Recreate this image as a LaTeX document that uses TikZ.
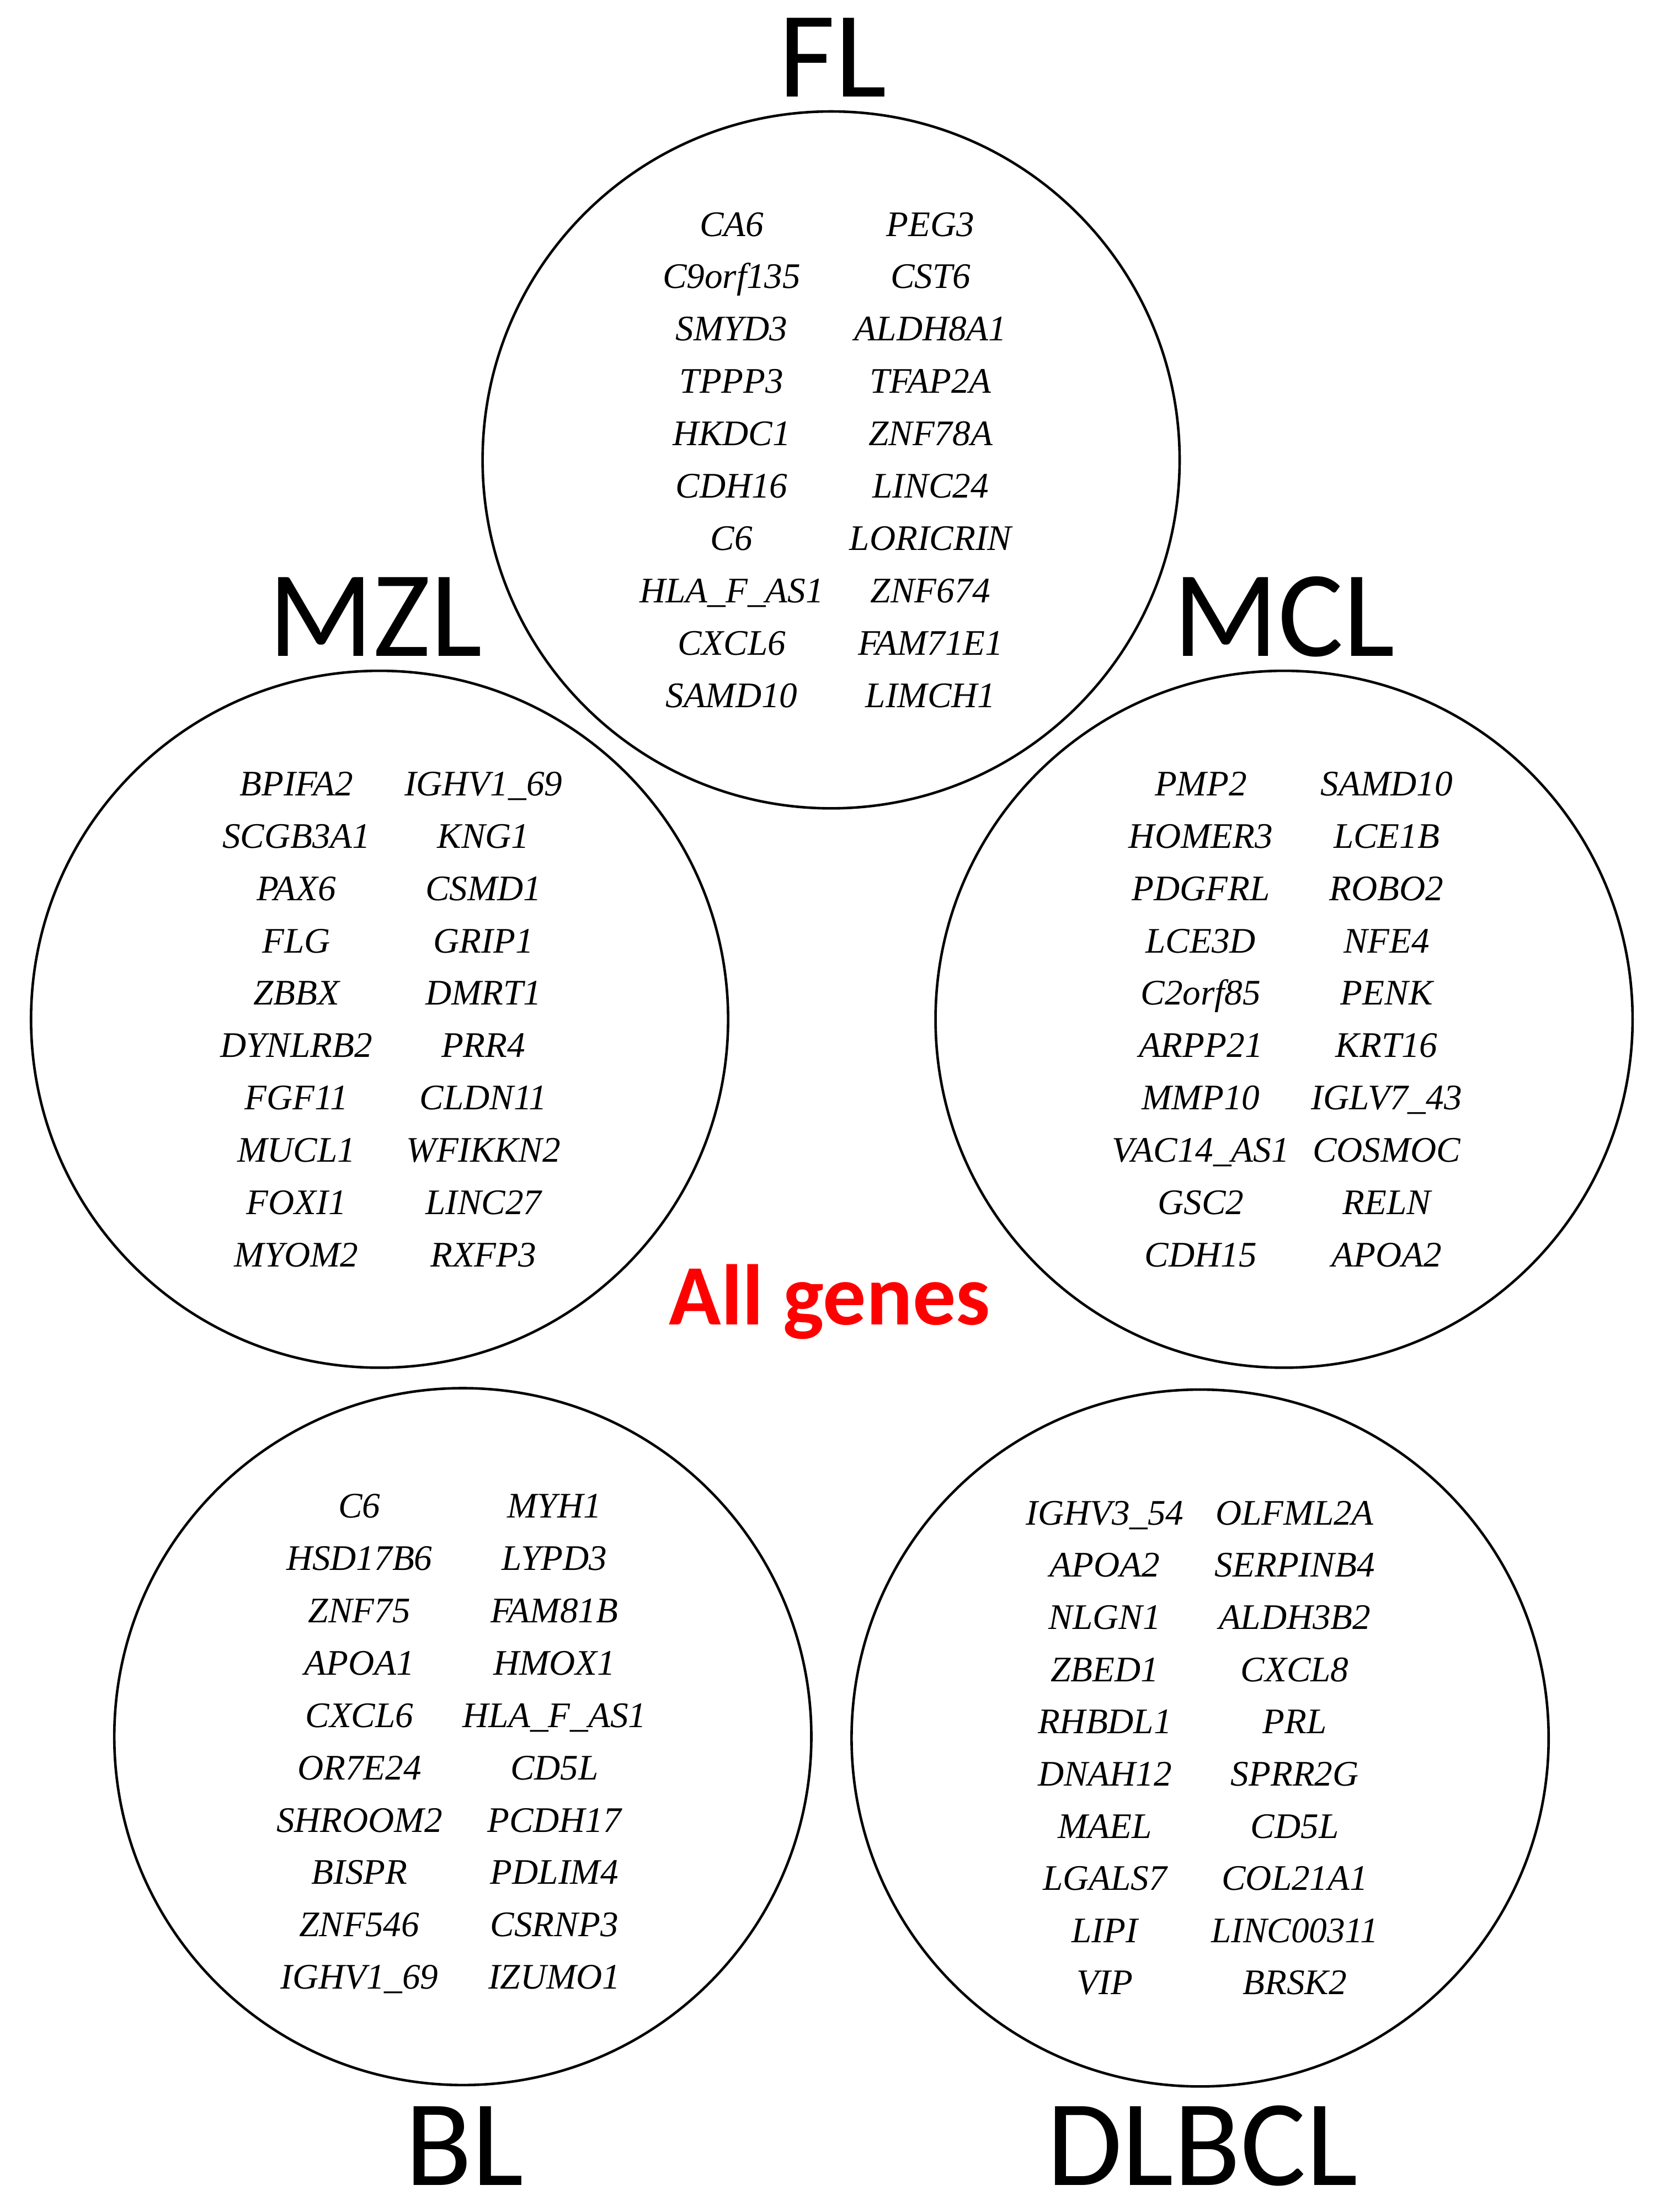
\documentclass[tikz,border=0pt]{standalone}
\usepackage{fontspec}
\setmainfont{Liberation Serif}
\newfontfamily\labfont{Carlito}
\begin{document}
\begin{tikzpicture}[x=1pt,y=-1pt,
 ring/.style={circle,draw,line width=1.8pt,minimum size=494pt,inner sep=0pt},
 gene/.style={font=\fontsize{25.5}{30}\selectfont\itshape,anchor=base,inner sep=0pt},
 title/.style={font=\labfont\fontsize{87}{100}\selectfont,anchor=base,inner sep=0pt},
 allg/.style={font=\labfont\bfseries\fontsize{61}{70}\selectfont,text=red,anchor=base,inner sep=0pt}]
\useasboundingbox (0,0) rectangle (1175,1568);
% circles
\node[ring] (fl) at (589,326) {};
\node[ring] (mzl) at (269,722.5) {};
\node[ring] (mcl) at (910,722.5) {};
\node[ring] (bl) at (328,1231) {};
\node[ring] (dlbcl) at (850.5,1232) {};
% titles
\node[title] (tfl) at (590,68.8) {FL};
\node[title] (tmzl) at (266,465) {MZL};
\node[title] (tmcl) at (910,465) {MCL};
\node[title] (tbl) at (329,1549) {BL};
\node[title] (tdlbcl) at (852,1549) {DLBCL};
\node[allg] (all) at (588,939) {All genes};
% FL genes
\foreach \g [count=\i] in {CA6,C9orf135,SMYD3,TPPP3,HKDC1,CDH16,C6,HLA\_F\_AS1,CXCL6,SAMD10}
  \node[gene] (fla\i) at (518.5,{167.4+37.1*(\i-1)}) {\g};
\foreach \g [count=\i] in {PEG3,CST6,ALDH8A1,TFAP2A,ZNF78A,LINC24,LORICRIN,ZNF674,FAM71E1,LIMCH1}
  \node[gene] (flb\i) at (659.5,{167.4+37.1*(\i-1)}) {\g};
% MZL genes
\foreach \g [count=\i] in {BPIFA2,SCGB3A1,PAX6,FLG,ZBBX,DYNLRB2,FGF11,MUCL1,FOXI1,MYOM2}
  \node[gene] (mzla\i) at (210,{564+37.1*(\i-1)}) {\g};
\foreach \g [count=\i] in {IGHV1\_69,KNG1,CSMD1,GRIP1,DMRT1,PRR4,CLDN11,WFIKKN2,LINC27,RXFP3}
  \node[gene] (mzlb\i) at (342.6,{564+37.1*(\i-1)}) {\g};
% MCL genes
\foreach \g [count=\i] in {PMP2,HOMER3,PDGFRL,LCE3D,C2orf85,ARPP21,MMP10,VAC14\_AS1,GSC2,CDH15}
  \node[gene] (mcla\i) at (851,{564+37.1*(\i-1)}) {\g};
\foreach \g [count=\i] in {SAMD10,LCE1B,ROBO2,NFE4,PENK,KRT16,IGLV7\_43,COSMOC,RELN,APOA2}
  \node[gene] (mclb\i) at (982.7,{564+37.1*(\i-1)}) {\g};
% BL genes
\foreach \g [count=\i] in {C6,HSD17B6,ZNF75,APOA1,CXCL6,OR7E24,SHROOM2,BISPR,ZNF546,IGHV1\_69}
  \node[gene] (bla\i) at (254.7,{1076+37.1*(\i-1)}) {\g};
\foreach \g [count=\i] in {MYH1,LYPD3,FAM81B,HMOX1,HLA\_F\_AS1,CD5L,PCDH17,PDLIM4,CSRNP3,IZUMO1}
  \node[gene] (blb\i) at (392.9,{1076+37.1*(\i-1)}) {\g};
% DLBCL genes
\foreach \g [count=\i] in {IGHV3\_54,APOA2,NLGN1,ZBED1,RHBDL1,DNAH12,MAEL,LGALS7,LIPI,VIP}
  \node[gene] (dla\i) at (783,{1080.9+37.0*(\i-1)}) {\g};
\foreach \g [count=\i] in {OLFML2A,SERPINB4,ALDH3B2,CXCL8,PRL,SPRR2G,CD5L,COL21A1,LINC00311,BRSK2}
  \node[gene] (dlb\i) at (917.6,{1080.9+37.0*(\i-1)}) {\g};
\end{tikzpicture}
\end{document}
